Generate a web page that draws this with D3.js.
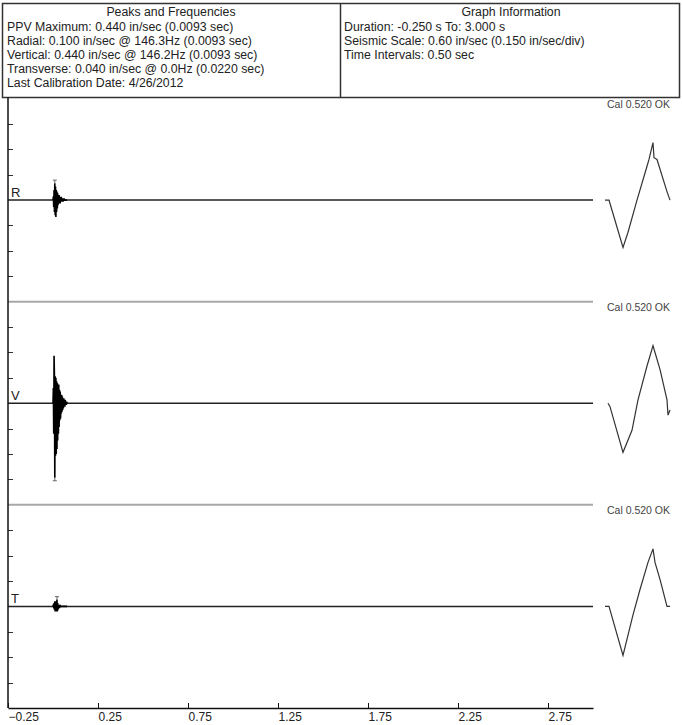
<!DOCTYPE html>
<html>
<head>
<meta charset="utf-8">
<script src="https://cdn.jsdelivr.net/npm/d3@7"></script>
<style>
  html, body { margin: 0; padding: 0; background: #fff; }
  svg { display: block; font-family: "Liberation Sans", Arial, sans-serif; }
</style>
</head>
<body>
<svg id="chart" width="682" height="725"></svg>
<script>
// ---------------- DATA ----------------
const channels = ["R", "V", "T"];
const xTicks = [-0.25, 0.25, 0.75, 1.25, 1.75, 2.25, 2.75];
const yTicks = [-0.45, -0.30, -0.15, 0.15, 0.30, 0.45];
const timeRange = [-0.25, 3.0];
const seismicScale = 0.60;

const headerLeftTitle = "Peaks and Frequencies";
const headerLeftLines = [
  "PPV Maximum: 0.440 in/sec (0.0093 sec)",
  "Radial: 0.100 in/sec @ 146.3Hz (0.0093 sec)",
  "Vertical: 0.440 in/sec @ 146.2Hz (0.0093 sec)",
  "Transverse: 0.040 in/sec @ 0.0Hz (0.0220 sec)",
  "Last Calibration Date: 4/26/2012"
];
const headerRightTitle = "Graph Information";
const headerRightLines = [
  "Duration: -0.250 s To: 3.000 s",
  "Seismic Scale: 0.60 in/sec (0.150 in/sec/div)",
  "Time Intervals: 0.50 sec"
];
const calLabels = ["Cal 0.520 OK", "Cal 0.520 OK", "Cal 0.520 OK"];

// sample times of the recorded event (sec)
const eventTimes = [0.000, 0.002, 0.004, 0.006, 0.008, 0.010, 0.012, 0.014, 0.016, 0.018,
                    0.020, 0.022, 0.024, 0.026, 0.028, 0.030, 0.032, 0.034, 0.036, 0.038,
                    0.040, 0.042, 0.044, 0.046, 0.048, 0.050, 0.052, 0.054, 0.056, 0.058,
                    0.060, 0.062, 0.064, 0.066, 0.068, 0.070, 0.072, 0.074, 0.076, 0.078];
// particle velocities (in/sec)
const radialValues = [0.00, 0.02, -0.04, 0.06, -0.07, 0.10, -0.09, 0.08, -0.10, 0.06,
                      -0.07, 0.05, -0.05, 0.04, -0.03, 0.03, -0.02, 0.03, -0.02, 0.02,
                      -0.02, 0.02, -0.01, 0.02, -0.01, 0.01, -0.01, 0.01, -0.01, 0.01,
                      0.00, 0.01, 0.00, 0.00, 0.00, 0.00, 0.00, 0.00, 0.00, 0.00];
const verticalValues = [0.00, 0.09, -0.18, 0.28, 0.15, -0.44, 0.16, -0.31, 0.15, -0.30,
                        0.13, -0.27, 0.12, -0.22, 0.10, -0.18, 0.11, -0.14, 0.08, -0.10,
                        0.07, -0.09, 0.05, -0.06, 0.05, -0.05, 0.04, -0.04, 0.03, -0.03,
                        0.03, -0.02, 0.02, -0.02, 0.02, -0.01, 0.01, -0.01, 0.01, 0.00];
const transverseValues = [0.00, 0.01, -0.01, 0.02, -0.02, 0.03, -0.03, 0.02, -0.03, 0.03,
                          -0.02, 0.04, -0.03, 0.02, -0.02, 0.01, -0.01, 0.01, -0.01, 0.01,
                          0.00, 0.00, 0.00, 0.00, 0.00, 0.00, 0.00, 0.00, 0.00, 0.00,
                          0.00, 0.00, 0.00, 0.00, 0.00, 0.00, 0.00, 0.00, 0.00, 0.00];
const peakTimes = [0.010, 0.010, 0.022];
const peakValues = [0.10, -0.44, 0.04];

// calibration pulse (ms, in/sec)
const calTimesR = [0, 4, 5, 18, 23, 32, 42, 44, 48, 49, 52, 62, 65];
const calValuesR = [0.00, 0.00, -0.02, -0.28, -0.19, 0.00, 0.20, 0.24, 0.34, 0.25, 0.24, 0.05, 0.00];
const calTimesV = [3, 5, 18, 27, 33, 42, 44, 48, 50, 55, 62, 63, 65];
const calValuesV = [0.00, -0.02, -0.29, -0.16, 0.02, 0.22, 0.26, 0.34, 0.30, 0.20, 0.02, -0.07, -0.04];
const calTimesT = [0, 4, 18, 28, 35, 43, 48, 50, 55, 62, 65];
const calValuesT = [0.00, 0.00, -0.29, -0.05, 0.10, 0.26, 0.34, 0.26, 0.16, 0.00, 0.00];
const calDomain = [0, 65];

// ---------------- CHART ----------------
const svg = d3.select("#chart");
const plotLeft = 8, plotRight = 593, plotTop = 98.5, plotBottom = 708;

const x = d3.scaleLinear().domain(timeRange).range([plotLeft, plotRight]);
const band = d3.scaleBand().domain(channels).range([plotTop, plotBottom]).paddingInner(0).paddingOuter(0);
const calX = d3.scaleLinear().domain(calDomain).range([605, 670]);

const yFor = ch => d3.scaleLinear().domain([-seismicScale, seismicScale])
  .range([band(ch) + band.bandwidth(), band(ch)]);

const eventValues = [radialValues, verticalValues, transverseValues];
const calTimes = [calTimesR, calTimesV, calTimesT];
const calValues = [calValuesR, calValuesV, calValuesT];

// ---- header ----
const hdr = svg.append("g");
hdr.append("rect").attr("x", 2.5).attr("y", 3.5).attr("width", 677).attr("height", 94)
  .attr("fill", "none").attr("stroke", "#333").attr("stroke-width", 1.5);
hdr.append("line").attr("x1", 340.5).attr("x2", 340.5).attr("y1", 3.5).attr("y2", 97.5)
  .attr("stroke", "#333").attr("stroke-width", 1.5);

const hdrFont = 12.3, lineH = 14;
hdr.append("text").attr("x", 171).attr("y", 16).attr("text-anchor", "middle")
  .attr("font-size", hdrFont).attr("fill", "#222").text(headerLeftTitle);
hdr.append("text").attr("x", 511).attr("y", 16).attr("text-anchor", "middle")
  .attr("font-size", hdrFont).attr("fill", "#222").text(headerRightTitle);
hdr.selectAll("text.l").data(headerLeftLines).join("text").attr("class", "l")
  .attr("x", 7).attr("y", (d, i) => 31 + i * lineH)
  .attr("font-size", hdrFont).attr("fill", "#222").text(d => d);
hdr.selectAll("text.r").data(headerRightLines).join("text").attr("class", "r")
  .attr("x", 344).attr("y", (d, i) => 31 + i * lineH)
  .attr("font-size", hdrFont).attr("fill", "#222").text(d => d);

// ---- channel separators ----
svg.selectAll("line.sep").data(channels.slice(1)).join("line").attr("class", "sep")
  .attr("x1", plotLeft).attr("x2", plotRight)
  .attr("y1", d => band(d)).attr("y2", d => band(d))
  .attr("stroke", "#a8a8a8").attr("stroke-width", 2);

const line = d3.line();

channels.forEach((ch, ci) => {
  const y = yFor(ch);
  const g = svg.append("g");

  // left ticks
  g.selectAll("line.yt").data(yTicks).join("line").attr("class", "yt")
    .attr("x1", plotLeft).attr("x2", plotLeft + 5)
    .attr("y1", d => Math.round(y(d)) + 0.5).attr("y2", d => Math.round(y(d)) + 0.5)
    .attr("stroke", "#333").attr("stroke-width", 1);

  // baseline
  g.append("path").datum([[timeRange[0], 0], [timeRange[1], 0]])
    .attr("d", d => line(d.map(p => [x(p[0]), y(p[1])])))
    .attr("stroke", "#222").attr("stroke-width", 1.5).attr("fill", "none");

  // event waveform
  const pts = eventTimes.map((t, i) => [x(t), y(eventValues[ci][i])]);
  g.append("path").attr("d", line(pts))
    .attr("stroke", "#000").attr("stroke-width", 1.6).attr("fill", "none");

  // peak marker
  const px = x(peakTimes[ci]), py = y(peakValues[ci]);
  const dir = peakValues[ci] > 0 ? -1 : 1;
  g.append("line").attr("x1", px).attr("x2", px).attr("y1", py).attr("y2", py + dir * 3)
    .attr("stroke", "#666").attr("stroke-width", 1);
  g.append("line").attr("x1", px - 2).attr("x2", px + 2).attr("y1", py + dir * 3).attr("y2", py + dir * 3)
    .attr("stroke", "#666").attr("stroke-width", 1);

  // channel letter
  g.append("text").attr("x", 11).attr("y", y(0) - 3)
    .attr("font-size", 13).attr("fill", "#222").text(ch);

  // calibration label
  g.append("text").attr("x", 670).attr("y", band(ch) + 9).attr("text-anchor", "end")
    .attr("font-size", 10.5).attr("fill", "#444").text(calLabels[ci]);

  // calibration pulse
  const cpts = calTimes[ci].map((t, i) => [calX(t), y(calValues[ci][i])]);
  g.append("path").attr("d", line(cpts))
    .attr("stroke", "#333").attr("stroke-width", 1.2).attr("fill", "none");
});

// ---- axes ----
svg.append("line").attr("x1", plotLeft).attr("x2", plotLeft).attr("y1", plotTop - 1).attr("y2", plotBottom)
  .attr("stroke", "#111").attr("stroke-width", 1.5);

const xAxis = d3.axisBottom(x).tickValues(xTicks).tickSizeInner(-5).tickSizeOuter(0)
  .tickPadding(4).tickFormat(d3.format(".2f"));
const ax = svg.append("g").attr("transform", `translate(0,${plotBottom})`).call(xAxis);
ax.select(".domain").attr("stroke", "#111").attr("stroke-width", 1.5);
ax.selectAll(".tick line").attr("stroke", "#111");
ax.selectAll(".tick text").attr("text-anchor", "start").attr("font-size", 12)
  .attr("font-family", "Liberation Sans, Arial, sans-serif").attr("fill", "#222")
  .attr("dx", 0);
</script>
</body>
</html>
